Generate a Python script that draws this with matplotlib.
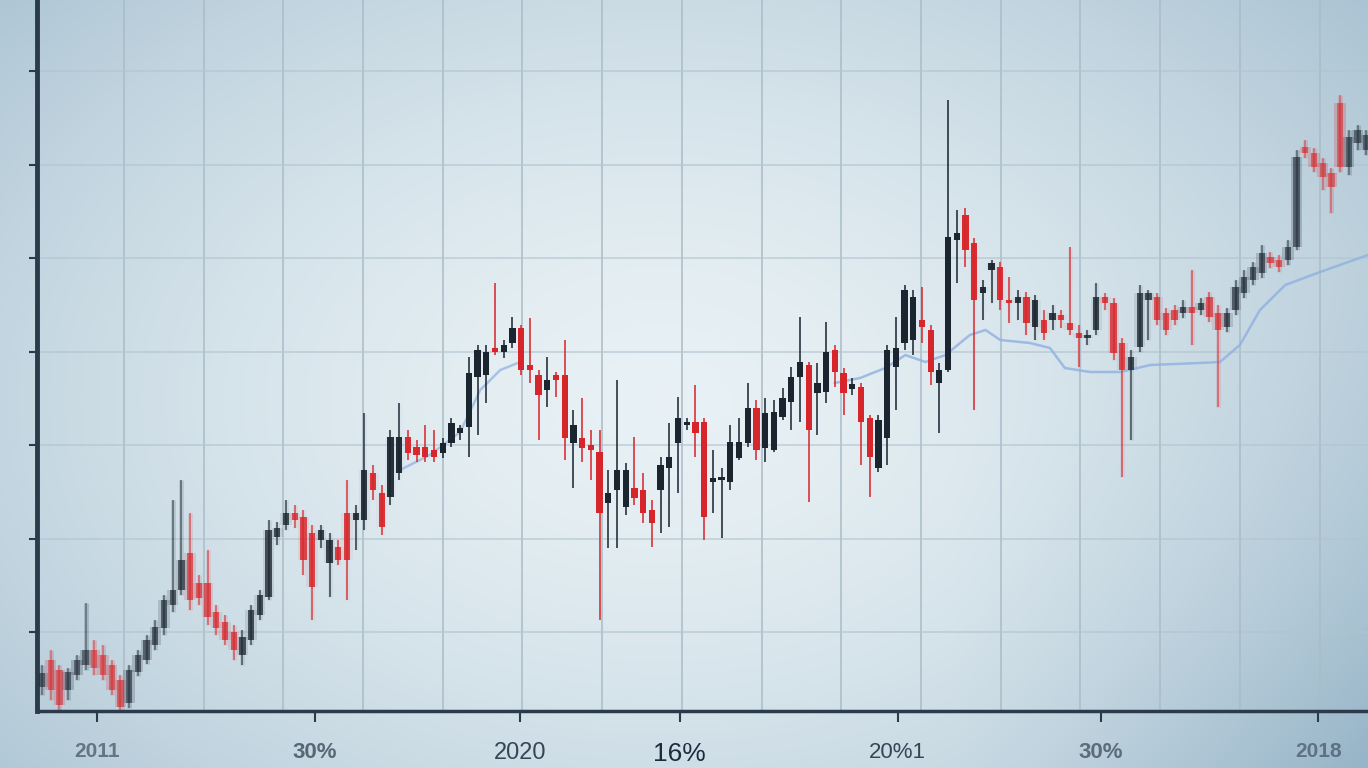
import matplotlib.pyplot as plt
import numpy as np

plt.rcParams['font.family'] = ['Liberation Sans', 'DejaVu Sans']

# OHLC values
opens = [24, 51, 41, 21, 36, 46, 61, 56, 46, 31, 8, 39, 51, 66, 83, 106, 121, 158, 128,
         128, 99, 89, 79, 56, 71, 96, 114, 174, 186, 198, 194, 178, 171, 148, 164, 198,
         191, 191, 238, 218, 214, 238, 274, 264, 264, 261, 258, 268, 278, 284, 334, 336,
         363, 359, 368, 383, 346, 336, 321, 336, 336, 268, 273, 266, 259, 208, 221, 204,
         223, 221, 201, 221, 243, 268, 286, 289, 289, 229, 231, 229, 253, 268, 303, 263,
         261, 294, 309, 334, 346, 318, 319, 361, 338, 322, 324, 293, 243, 273, 344, 368,
         371, 391, 381, 328, 341, 471, 496, 468, 418, 441, 444, 411, 408, 414, 384, 391,
         391, 396, 388, 378, 373, 381, 414, 408, 368, 341, 364, 411, 414, 398, 401, 398,
         404, 401, 414, 398, 384, 401, 418, 431, 438, 454, 451, 451, 464, 564, 558, 548,
         538, 608, 544, 568, 561]
highs = [46, 61, 46, 43, 56, 108, 71, 66, 51, 36, 46, 61, 76, 91, 116, 211, 231, 198, 136,
         161, 106, 96, 86, 81, 106, 121, 191, 189, 211, 206, 201, 186, 186, 178, 171, 231,
         206, 298, 246, 226, 281, 308, 281, 271, 286, 281, 273, 293, 286, 354, 366, 366,
         428, 371, 394, 386, 393, 341, 354, 339, 371, 301, 313, 281, 281, 241, 331, 248,
         274, 238, 211, 254, 288, 314, 293, 326, 293, 261, 243, 286, 293, 328, 311, 313,
         311, 323, 344, 394, 349, 348, 389, 366, 343, 333, 328, 296, 296, 366, 394, 426,
         421, 424, 386, 348, 611, 501, 503, 473, 431, 451, 449, 434, 421, 419, 416, 401,
         406, 401, 464, 386, 381, 428, 418, 413, 373, 361, 426, 421, 418, 403, 406, 411,
         441, 413, 419, 406, 403, 431, 441, 449, 466, 459, 456, 471, 561, 571, 563, 553,
         543, 616, 581, 586, 581]
lows = [16, 11, 1, 11, 31, 41, 36, 31, 16, 1, 3, 35, 47, 61, 76, 99, 116, 101, 106,
        86, 76, 66, 51, 46, 66, 91, 111, 166, 181, 183, 136, 91, 163, 114, 146, 111,
        161, 181, 211, 176, 206, 231, 251, 249, 249, 249, 253, 264, 271, 254, 276, 308,
        356, 353, 363, 336, 328, 271, 304, 314, 251, 223, 249, 231, 91, 163, 163, 196,
        206, 188, 164, 178, 184, 218, 281, 254, 171, 198, 173, 221, 251, 264, 251, 249,
        259, 291, 281, 289, 209, 276, 308, 324, 296, 316, 246, 214, 239, 246, 301, 361,
        356, 368, 326, 278, 339, 428, 444, 301, 391, 408, 401, 388, 391, 376, 371, 371,
        381, 383, 376, 344, 366, 376, 401, 351, 234, 271, 359, 371, 386, 376, 386, 393,
        366, 396, 389, 304, 379, 396, 413, 426, 433, 443, 439, 446, 461, 553, 539, 521,
        498, 539, 536, 561, 556]
closes = [38, 21, 6, 39, 51, 61, 43, 36, 21, 4, 41, 56, 71, 84, 111, 121, 151, 111, 113,
          94, 83, 71, 61, 74, 101, 116, 181, 183, 198, 191, 151, 124, 181, 171, 151, 151,
          198, 241, 221, 184, 274, 274, 258, 256, 254, 254, 268, 288, 283, 338, 361, 359,
          359, 366, 383, 341, 341, 316, 331, 331, 273, 286, 263, 261, 198, 218, 241, 241,
          213, 198, 188, 246, 254, 293, 289, 278, 194, 233, 234, 269, 269, 303, 261, 298,
          299, 313, 334, 349, 281, 328, 359, 339, 318, 327, 289, 254, 291, 361, 363, 421,
          414, 384, 339, 341, 474, 478, 461, 411, 424, 448, 411, 408, 414, 388, 411, 378,
          398, 391, 381, 373, 376, 414, 408, 358, 341, 354, 418, 418, 391, 381, 391, 404,
          398, 408, 394, 381, 398, 424, 434, 444, 458, 448, 444, 464, 554, 558, 544, 534,
          524, 544, 574, 581, 576]

# moving-average line (sparse points)
ma_idx = [41.1, 44.5, 48.0, 50.3, 52.6, 54.9, 91.0, 93.9, 96.8, 99.1, 101.4, 103.7,
          106.5, 108.3, 110.0, 113.4, 115.7, 117.4, 120.3, 123.8, 127.2, 132.9, 135.2,
          137.5, 139.8, 142.7, 146.7, 152.2]
ma_val = [241, 256, 279, 321, 341, 349, 328, 333, 343, 356, 349, 356,
          376, 381, 371, 368, 363, 343, 339, 339, 346, 348, 349,
          366, 401, 426, 439, 456]
ma_gap_after = 5  # line hidden behind candles between these points

x_labels = ['2011', '30%', '2020', '16%', '20%1', '30%', '2018']
x_label_pos = [6.3, 31.3, 54.9, 73.2, 98.2, 121.5, 146.5]

fig = plt.figure(figsize=(13.68, 7.68), dpi=100)

# photo-like background
h, w = 768, 1368
yy, xx = np.mgrid[0:h, 0:w]
r = np.sqrt(((xx - 660) / 980) ** 2 + ((yy - 400) / 680) ** 2)
t = np.clip(r, 0, 1) ** 1.6
t = np.clip(t + 0.35 * np.clip((xx - 950) / 418, 0, 1) * np.clip((yy - 250) / 518, 0, 1), 0, 1.2)
c0 = np.array([0.91, 0.945, 0.96])
c1 = np.array([0.64, 0.745, 0.81])
img = c0[None, None, :] * (1 - t[..., None]) + c1[None, None, :] * t[..., None]
img = np.clip(img, 0, 1)
bg = fig.add_axes([0, 0, 1, 1], zorder=0)
bg.imshow(img, aspect='auto', extent=[0, 1, 0, 1])
bg.axis('off')

ax = fig.add_axes([37 / 1368, 57 / 768, 1331 / 1368, 711 / 768], zorder=1)
ax.patch.set_alpha(0)

n = len(opens)
idx = np.arange(n)
up_col = '#1b2530'
dn_col = '#d7262b'
for i in idx:
    o, hi, lo, c = opens[i], highs[i], lows[i], closes[i]
    col = up_col if c >= o else dn_col
    blur = max(np.clip((45 - i) / 40, 0, 1), np.clip((i - 104) / 45, 0, 1))
    a = 1 - 0.5 * blur
    if blur > 0.05:
        # soft halo to mimic the out-of-focus parts
        ax.vlines(i, lo, hi, color=col, lw=3.5, alpha=0.18 * blur, zorder=2)
        ax.bar(i, max(abs(c - o), 3), bottom=min(o, c), width=1.3, color=col,
               alpha=0.22 * blur, linewidth=0, zorder=2)
    ax.vlines(i, lo, hi, color=col, lw=1.4, alpha=a * 0.8, zorder=3)
    ax.bar(i, max(abs(c - o), 3), bottom=min(o, c), width=0.72, color=col,
           alpha=a, linewidth=0, zorder=4)

ax.plot(ma_idx[:ma_gap_after + 1], ma_val[:ma_gap_after + 1], color='#8fb0e0', lw=1.8, alpha=0.7, zorder=2.5)
ax.plot(ma_idx[ma_gap_after + 1:], ma_val[ma_gap_after + 1:], color='#8fb0e0', lw=1.8, alpha=0.8, zorder=2.5)

ax.set_xlim(-0.574, 152.2)
ax.set_ylim(0, 711)

# grid
ax.set_xticks(np.arange(9.4, 153, 9.15), minor=True)
ax.set_yticks(np.arange(79, 711, 93.5))
ax.xaxis.grid(True, which='minor', color='#a9bcc8', lw=1.3, alpha=0.85)
ax.yaxis.grid(True, which='major', color='#b2c4cf', lw=1.2, alpha=0.7)
ax.set_axisbelow(True)
ax.set_yticklabels([])
ax.tick_params(axis='y', length=6, width=1.5, color='#2c3b4b')
ax.tick_params(axis='x', which='minor', length=0)

ax.set_xticks(x_label_pos)
ax.set_xticklabels(x_labels)
ax.tick_params(axis='x', which='major', length=8, width=1.5, color='#2c3b4b', pad=14)
sizes = [15, 16, 17, 19, 16, 16, 15]
alphas = [0.55, 0.65, 0.85, 1.0, 0.85, 0.6, 0.5]
weights = ['bold', 'bold', 'normal', 'normal', 'normal', 'bold', 'bold']
for lab, s, al, wt in zip(ax.get_xticklabels(), sizes, alphas, weights):
    lab.set_fontsize(s)
    lab.set_alpha(al)
    lab.set_fontweight(wt)
    lab.set_color('#1d2b3c')

for side in ['top', 'right']:
    ax.spines[side].set_visible(False)
ax.spines['left'].set_color('#2c3b4b')
ax.spines['left'].set_linewidth(3.5)
ax.spines['bottom'].set_color('#2c3b4b')
ax.spines['bottom'].set_linewidth(2.5)

plt.savefig('out.png', dpi=100)
